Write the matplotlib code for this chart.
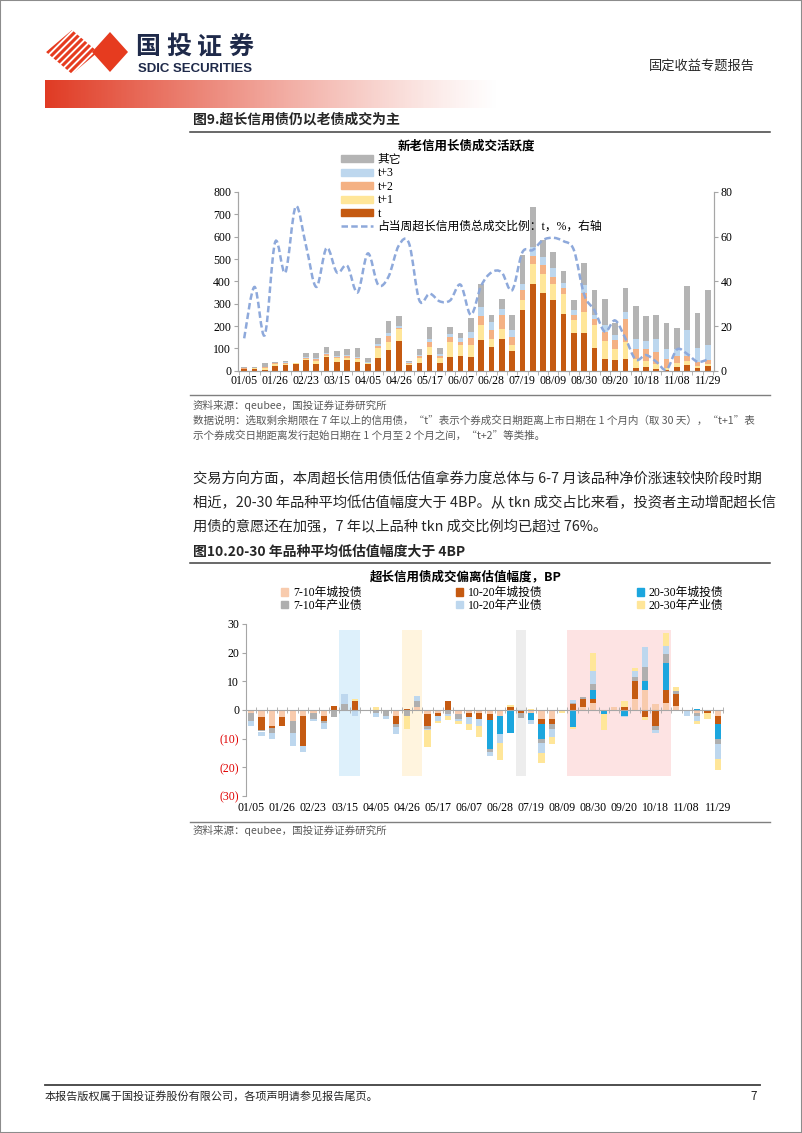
import numpy as np
import matplotlib
matplotlib.use('Agg')
import matplotlib.pyplot as plt
from matplotlib.patches import Polygon, Rectangle, Patch, PathPatch
from matplotlib.path import Path
from matplotlib.lines import Line2D

W, H = 802, 1133
CJK = 'Noto Sans CJK SC'
SERIF = ['Liberation Serif', 'Noto Sans CJK SC']

# weekly trade dates (CNY and National Day weeks skipped)
weeks = ['01/05', '01/12', '01/19', '01/26', '02/02', '02/08', '02/23', '03/01', '03/08', '03/15',
         '03/22', '03/29', '04/05', '04/12', '04/19', '04/26', '05/03', '05/10', '05/17', '05/24',
         '05/31', '06/07', '06/14', '06/21', '06/28', '07/05', '07/12', '07/19', '07/26', '08/02',
         '08/09', '08/16', '08/23', '08/30', '09/06', '09/13', '09/20', '09/27', '10/11', '10/18',
         '10/25', '11/01', '11/08', '11/15', '11/22', '11/29']

# Fig 9: trading volume by bond age (stacked)
vol_t = [6, 9, 5, 21, 24, 30, 48, 30, 60, 39, 46, 39, 30, 55, 93, 133, 24, 33, 69, 33,
         60, 64, 60, 138, 105, 140, 90, 270, 390, 348, 315, 252, 168, 168, 102, 53, 48, 53, 11, 18,
         8, 3, 18, 27, 11, 20]
vol_t1 = [2, 2, 5, 7, 4, 3, 6, 15, 6, 16, 12, 12, 3, 45, 37, 52, 4, 22, 38, 22,
          67, 51, 55, 65, 35, 45, 23, 45, 87, 87, 75, 93, 60, 95, 104, 78, 50, 75, 42, 27,
          22, 8, 15, 18, 12, 10]
vol_t2 = [2, 1, 5, 5, 6, 1, 4, 6, 7, 8, 8, 7, 3, 12, 27, 8, 6, 11, 23, 12,
          25, 15, 30, 40, 40, 63, 37, 45, 36, 38, 30, 26, 23, 85, 27, 42, 40, 105, 45, 53,
          53, 42, 35, 23, 15, 18]
vol_t3 = [2, 1, 3, 1, 5, 1, 5, 4, 5, 4, 4, 5, 3, 6, 10, 7, 5, 4, 12, 8,
          12, 15, 30, 42, 38, 27, 30, 26, 42, 37, 38, 22, 22, 35, 18, 30, 20, 30, 45, 37,
          60, 45, 30, 112, 62, 67]
vol_other = [6, 2, 15, 3, 4, 1, 18, 26, 26, 23, 26, 37, 16, 27, 55, 45, 6, 26, 52, 25,
             30, 22, 62, 102, 30, 45, 70, 132, 176, 75, 75, 54, 42, 100, 109, 120, 57, 109, 145, 108,
             105, 117, 94, 198, 158, 248]
share_t = [14.5, 37.5, 16, 57.5, 44, 73.5, 56, 37.5, 55, 44, 47, 35, 52.5, 38.5, 42, 56, 57, 31.5, 34.5, 31,
           31.5, 38.5, 25, 38, 44, 44, 36, 53, 54, 58.5, 59.5, 58, 54, 34, 27, 17.5, 22.5, 14.5, 5, 7,
           4, 0.5, 9.5, 7.5, 4, 5]

# Fig 10: deviation from valuation, BP
dev_ct7 = [-1, -2.5, -5.5, -2.5, -4, -2, -1, -2, -0.5, 0, 0, 0, 0, -0.5, -2, 0, 1, -1.3, -1, -0.5,
           -1.5, -1, -1, -1.5, -2, -0.5, -0.5, -1, -3, -3, 0, 0, 1, 2.5, 0, 1, 0, 4, 7, 2,
           2.5, 1.5, 0, -1, -0.5, -2]
dev_ct10 = [0, -4.5, -0.8, -3, 0, -10.5, 0, -2, 1.3, 0, 3.3, 0, 0, 0, -3, 0.5, 0, -4.2, -1, 3,
            0, -1.5, -2, -2, 0, 1, -0.7, 0, -2, -2, 0, 2, 3, 1.5, 0, 0, 1, 6, -2.5, -5.5,
            4.5, 4, 0, 0, -0.5, -3]
dev_ct20 = [0, 0, 0, 0, 0, 0, 0, 0, 0, 0, 0, 0, 0, 0, 0, 0, 0, 0, 0, 0,
            0, 0, 0, -10, -6.5, -7.5, 0, -2.5, -5, 0, 0, -6, 0, 3, -1.5, 0, -2, 0, 3, 0,
            9.5, 0, 0, 0.3, 0, -5]
dev_cy7 = [-3, -0.5, -1.7, 0, -4, 0, -2, -0.5, -2, 2, -0.5, -0.5, -1, -1.5, -1, -2, 2, -1, 0, -1,
           -1.5, 0, 0, -1, 0, 0, -1.5, 0, -1.5, -1.5, -0.5, 0.5, 0.5, 2, 0, 0, 0, 1.5, 5, -1.5,
           3, 1, 0, -1, 0, -2]
dev_cy10 = [-1.5, -1.5, -2, 0, -4.5, -2, -1, -2, 0, 3.5, -1.5, 0, -1.5, -1, -2.5, 0, 2, -0.5, -2, -0.5,
            -1, -2.5, -2.5, -1.5, -3, 0, 0, -1.5, -3.5, -3, 0, 1, 0, 4.5, 0, -0.5, -0.5, 2, 7, -1,
            3, 0, -2, -2, 0, -5]
dev_cy20 = [0, 0, 0, 0, 0, 0, 0, 0, 0, 0, 0.5, 0, 1, 0, 0, -4.5, 0, -5.8, -0.5, -1.5,
            -1, -2, -4, 0, -6, 0.7, 0, 0.5, -3.5, -2.5, -0.5, -0.5, 0, 6.5, -5.5, 0, 2, 1, -1, 0,
            4.5, 1.5, 0, -1, -2, -4]

# highlighted week ranges in fig 10 (first week, last week)
shade_ranges = [('03/15', '03/22'), ('04/26', '05/03'), ('07/12', '07/12'), ('08/16', '10/25')]
shade_colors = ['#DDF0FB', '#FFF4DE', '#EDEDED', '#FDE3E3']


def fx(x):
    return x / W


def fy(y):
    return 1 - y / H


def hline(fig, x0, x1, y, color='#595959', lw=1.0):
    fig.add_artist(Line2D([fx(x0), fx(x1)], [fy(y), fy(y)], transform=fig.transFigure,
                          color=color, lw=lw))


def page_text(fig, x, y, s, size=10.3, **kw):
    kw.setdefault('family', CJK)
    kw.setdefault('color', '#262626')
    fig.text(fx(x), fy(y), s, fontsize=size, va='center', **kw)


def smooth_path(xs, ys):
    # Excel-style smoothed line: cubic bezier segments through every point
    pts = np.column_stack([xs, ys]).astype(float)
    verts = [pts[0]]
    codes = [Path.MOVETO]
    n = len(pts)
    for i in range(n - 1):
        p0 = pts[max(i - 1, 0)]
        p1, p2 = pts[i], pts[i + 1]
        p3 = pts[min(i + 2, n - 1)]
        verts += [p1 + (p2 - p0) / 6, p2 - (p3 - p1) / 6, p2]
        codes += [Path.CURVE4] * 3
    return Path(verts, codes)


def main():
    plt.rcParams['font.family'] = SERIF
    fig = plt.figure(figsize=(W / 100, H / 100), dpi=100)
    fig.patch.set_facecolor('white')

    # ---- header ----
    ax_logo = fig.add_axes([fx(40), fy(78), 95 / W, 50 / H])
    ax_logo.set_xlim(40, 135)
    ax_logo.set_ylim(78, 28)
    ax_logo.axis('off')
    clip = Polygon([(46, 52), (72, 30), (98, 52), (72, 74)], closed=True, transform=ax_logo.transData)
    for c in range(100, 152, 7):
        ln, = ax_logo.plot([c - 80, c - 20], [80, 20], color='#E63B1F', lw=2.2, solid_capstyle='butt')
        ln.set_clip_path(clip)
    ax_logo.add_patch(Polygon([(92, 52), (110, 32), (128, 52), (110, 72)], closed=True,
                              color='#E63B1F', lw=0))
    # brand name, one glyph at a time to get the wide logo spacing
    for k, ch in enumerate('国投证券'):
        fig.text(fx(135 + 31 * k), fy(54), ch, fontsize=18, family=CJK, weight='bold',
                 color='#1F2A4A', va='baseline')
    fig.text(fx(138), fy(69), 'SDIC SECURITIES', fontsize=9.5, family='Liberation Sans',
             weight='bold', color='#1F2A4A', va='center')
    fig.text(fx(755), fy(66), '固定收益专题报告', fontsize=9.5, family=CJK, color='#262626',
             va='center', ha='right')

    ax_band = fig.add_axes([fx(45), fy(108), 455 / W, 28 / H])
    ax_band.axis('off')
    grad = np.ones((1, 300, 4))
    grad[..., 0], grad[..., 1], grad[..., 2] = 0.88, 0.23, 0.14
    grad[..., 3] = np.linspace(1, 0, 300) ** 1.15
    ax_band.imshow(grad, aspect='auto', extent=(0, 1, 0, 1))

    # ---- figure 9 ----
    page_text(fig, 193, 120, '图9.超长信用债仍以老债成交为主', size=10, weight='bold')
    hline(fig, 190, 770, 132, color='#404040', lw=1.1)
    fig.text(fx(466), fy(146), '新老信用长债成交活跃度', fontsize=9, weight='bold',
             ha='center', va='center', family=CJK)

    x = np.arange(len(weeks))
    ax1 = fig.add_axes([fx(238), fy(370.7), 476 / W, 178.7 / H])
    layers = [(vol_t, '#C55A11', 't'), (vol_t1, '#FFE699', 't+1'), (vol_t2, '#F4B183', 't+2'),
              (vol_t3, '#BDD7EE', 't+3'), (vol_other, '#B4B4B4', '其它')]
    bottom = np.zeros(len(weeks))
    handles = []
    for vals, col, lab in layers:
        ax1.bar(x, vals, 0.55, bottom=bottom, color=col, lw=0, zorder=2)
        bottom += np.array(vals)
        handles.append(Patch(color=col, label=lab))
    ax1.set_xlim(-0.6, len(weeks) - 0.4)
    ax1.set_ylim(0, 800)
    ax1.set_yticks(range(0, 801, 100))

    ax1r = ax1.twinx()
    line_style = dict(color='#8EA9DB', lw=1.8, linestyle=(0, (2.6, 1.3)))
    ax1r.add_patch(PathPatch(smooth_path(x, share_t), fill=False, capstyle='butt', **line_style))
    line = Line2D([], [], label='占当周超长信用债总成交比例：t，%，右轴', **line_style)
    ax1r.set_ylim(0, 80)
    ax1r.set_yticks(range(0, 81, 20))

    for a in (ax1, ax1r):
        a.spines['top'].set_visible(False)
        for s in ('left', 'right', 'bottom'):
            a.spines[s].set_color('#A6A6A6')
        a.tick_params(axis='y', length=3, color='#A6A6A6', labelsize=8.5, pad=2)
    ax1.set_xticks(x[::3])
    ax1.set_xticklabels(weeks[::3])
    ax1.set_xticks(np.arange(-0.5, len(weeks), 1), minor=True)
    ax1.tick_params(axis='x', which='major', length=0, labelsize=8.5, pad=3)
    ax1.tick_params(axis='x', which='minor', length=3, color='#A6A6A6')

    handles = handles[::-1] + [line]
    ax1.legend(handles=handles, loc='upper left', bbox_to_anchor=(fx(341), fy(154)),
               bbox_transform=fig.transFigure, frameon=False, fontsize=8.5,
               handlelength=2.7, handleheight=0.55, handletextpad=0.4, labelspacing=0.12,
               borderpad=0, borderaxespad=0)

    hline(fig, 190, 770, 395, color='#7F7F7F', lw=1.0)
    page_text(fig, 193, 405, '资料来源：qeubee，国投证券证券研究所', size=7.6, color='#595959')
    page_text(fig, 193, 420, '数据说明：选取剩余期限在 7 年以上的信用债，“t”表示个券成交日期距离上市日期在 1 个月内（取 30 天），“t+1”表',
              size=7.6, color='#595959')
    page_text(fig, 193, 435, '示个券成交日期距离发行起始日期在 1 个月至 2 个月之间，“t+2”等类推。',
              size=7.6, color='#595959')

    # ---- body text ----
    page_text(fig, 193, 479, '交易方向方面，本周超长信用债低估值拿券力度总体与 6-7 月该品种净价涨速较快阶段时期')
    page_text(fig, 193, 503, '相近，20-30 年品种平均低估值幅度大于 4BP。从 tkn 成交占比来看，投资者主动增配超长信')
    page_text(fig, 193, 527, '用债的意愿还在加强，7 年以上品种 tkn 成交比例均已超过 76%。')

    # ---- figure 10 ----
    page_text(fig, 193, 552, '图10.20-30 年品种平均低估值幅度大于 4BP', size=10, weight='bold')
    hline(fig, 190, 770, 563, color='#404040', lw=1.1)
    fig.text(fx(466), fy(577), '超长信用债成交偏离估值幅度，BP', fontsize=9, weight='bold',
             ha='center', va='center', family=CJK)

    ax2 = fig.add_axes([fx(246), fy(796), 477 / W, 172 / H])
    for (w0, w1), col in zip(shade_ranges, shade_colors):
        i0, i1 = weeks.index(w0), weeks.index(w1)
        ax2.add_patch(Rectangle((i0 - 0.5, -23), i1 - i0 + 1, 51, color=col, lw=0, zorder=0))

    series = [(dev_ct7, '#F8CBAD', '7-10年城投债'), (dev_cy7, '#AFAFAF', '7-10年产业债'),
              (dev_ct10, '#C55A11', '10-20年城投债'), (dev_cy10, '#BDD7EE', '10-20年产业债'),
              (dev_ct20, '#1CA6DE', '20-30年城投债'), (dev_cy20, '#FFE699', '20-30年产业债')]
    stack_order = [0, 2, 4, 1, 3, 5]
    pos = np.zeros(len(weeks))
    neg = np.zeros(len(weeks))
    for k in stack_order:
        vals = np.array(series[k][0], dtype=float)
        b = np.where(vals >= 0, pos, neg)
        ax2.bar(x, vals, 0.6, bottom=b, color=series[k][1], lw=0, zorder=2)
        pos += np.clip(vals, 0, None)
        neg += np.clip(vals, None, 0)

    ax2.set_xlim(-0.5, len(weeks) - 0.5)
    ax2.set_ylim(-30, 30)
    ax2.set_yticks(range(-30, 31, 10))
    ax2.set_yticklabels(['(30)', '(20)', '(10)', '0', '10', '20', '30'])
    for lbl in ax2.get_yticklabels():
        if lbl.get_text().startswith('('):
            lbl.set_color('#E00000')
    ax2.spines['top'].set_visible(False)
    ax2.spines['right'].set_visible(False)
    ax2.spines['left'].set_color('#A6A6A6')
    ax2.spines['bottom'].set_color('#A6A6A6')
    ax2.spines['bottom'].set_position(('data', 0))
    ax2.spines['bottom'].set_zorder(3)
    ax2.tick_params(axis='y', length=3, color='#A6A6A6', labelsize=8.5, pad=2)
    ax2.set_xticks(x[::3])
    ax2.set_xticklabels(weeks[::3])
    ax2.set_xticks(np.arange(-0.5, len(weeks), 1), minor=True)
    ax2.tick_params(axis='x', which='major', length=0, labelsize=8.5, pad=66)
    ax2.tick_params(axis='x', which='minor', length=4, direction='inout', color='#A6A6A6')

    leg_handles = [Patch(color=c, label=l) for _, c, l in series]
    ax2.legend(handles=leg_handles, loc='upper left', ncol=3, bbox_to_anchor=(fx(281), fy(587)),
               bbox_transform=fig.transFigure, frameon=False, fontsize=8.5,
               handlelength=0.6, handleheight=0.6, handletextpad=0.4, labelspacing=0.05,
               columnspacing=8.0, borderpad=0, borderaxespad=0)

    hline(fig, 190, 770, 822, color='#7F7F7F', lw=1.0)
    page_text(fig, 193, 830, '资料来源：qeubee，国投证券证券研究所', size=7.6, color='#595959')

    # ---- footer ----
    hline(fig, 45, 760, 1085, color='#404040', lw=1.3)
    page_text(fig, 45, 1097, '本报告版权属于国投证券股份有限公司，各项声明请参见报告尾页。', size=8)
    page_text(fig, 757, 1097, '7', size=8.5, ha='right')

    fig.add_artist(Rectangle((0, 0), 1, 1, transform=fig.transFigure, fill=False,
                             edgecolor='#8C8C8C', lw=1.5))

    fig.savefig('out.png', dpi=100)


if __name__ == '__main__':
    main()
